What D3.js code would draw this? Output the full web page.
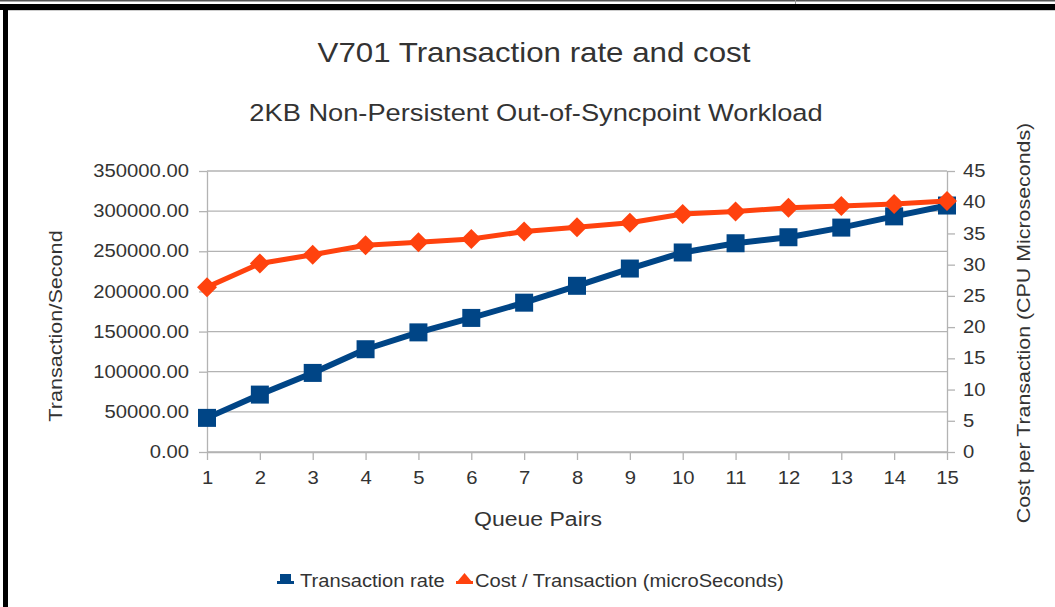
<!DOCTYPE html>
<html>
<head>
<meta charset="utf-8">
<script src="https://cdn.jsdelivr.net/npm/d3@7"></script>
<style>
  body { margin: 0; background: #fff; }
  svg { display: block; font-family: "Liberation Sans", Arial, sans-serif; }
</style>
</head>
<body>
<svg id="chart" width="1055" height="607"></svg>
<script>
const queuePairs = [1, 2, 3, 4, 5, 6, 7, 8, 9, 10, 11, 12, 13, 14, 15];
const transactionRate = [42500, 71500, 98500, 128000, 149000, 167000, 186000, 207000, 228500, 248500, 260000, 267500, 279500, 293500, 307000];
const costPerTransaction = [26.4, 30.2, 31.6, 33.1, 33.6, 34.1, 35.3, 36.0, 36.7, 38.1, 38.5, 39.1, 39.4, 39.7, 40.2];
const leftTicks = [0, 50000, 100000, 150000, 200000, 250000, 300000, 350000];
const rightTicks = [0, 5, 10, 15, 20, 25, 30, 35, 40, 45];

const blue = "#004586", orange = "#ff420e", grid = "#b3b3b3", textCol = "#333";
const stretch = 1.15; // source text looks horizontally widened
const svg = d3.select("#chart");

// frame bits around the picture
svg.append("rect").attr("x", 0).attr("y", 0).attr("width", 1055).attr("height", 1.5).attr("fill", "#555");
svg.append("rect").attr("x", 795).attr("y", 0).attr("width", 1).attr("height", 4).attr("fill", "#999");
svg.append("rect").attr("x", 0).attr("y", 4).attr("width", 1055).attr("height", 6).attr("fill", "#000");
svg.append("rect").attr("x", 3).attr("y", 10).attr("width", 5).attr("height", 597).attr("fill", "#000");
svg.append("rect").attr("x", 8).attr("y", 10).attr("width", 1047).attr("height", 1).attr("fill", "#ccc");

const plotL = 207, plotR = 947, plotT = 171, plotB = 452;

const x = d3.scaleLinear().domain([1, 15]).range([plotL, plotR]);
const yL = d3.scaleLinear().domain([0, 350000]).range([plotB, plotT]);
const yR = d3.scaleLinear().domain([0, 45]).range([plotB, plotT]);

// gridlines
svg.append("g").selectAll("line").data(leftTicks).join("line")
  .attr("x1", plotL).attr("x2", plotR)
  .attr("y1", d => yL(d)).attr("y2", d => yL(d))
  .attr("stroke", grid).attr("stroke-width", 1.3);

function styleAxis(g) {
  g.select(".domain").attr("stroke", grid).attr("stroke-width", 1.3);
  g.selectAll(".tick line").attr("stroke", grid).attr("stroke-width", 1.3);
  g.selectAll(".tick text").attr("fill", textCol).style("font-size", "17.6px");
}

svg.append("g").attr("transform", `translate(${plotL},0)`)
  .call(d3.axisLeft(yL).tickValues(leftTicks).tickFormat(d3.format(".2f")).tickSize(8).tickSizeOuter(0).tickPadding(10))
  .call(styleAxis);

svg.append("g").attr("transform", `translate(${plotR},0)`)
  .call(d3.axisRight(yR).tickValues(rightTicks).tickSize(8).tickSizeOuter(0).tickPadding(8))
  .call(styleAxis);

svg.append("g").attr("transform", `translate(0,${plotB})`)
  .call(d3.axisBottom(x).tickValues(queuePairs).tickFormat(d3.format("d")).tickSize(8).tickSizeOuter(0).tickPadding(12))
  .call(styleAxis);

// lines
const blueLine = d3.line().x((d, i) => x(queuePairs[i])).y(d => yL(d));
const orangeLine = d3.line().x((d, i) => x(queuePairs[i])).y(d => yR(d));

svg.append("path").datum(transactionRate).attr("d", blueLine)
  .attr("fill", "none").attr("stroke", blue).attr("stroke-width", 6).attr("stroke-linejoin", "round");
svg.append("g").selectAll("rect").data(transactionRate).join("rect")
  .attr("x", (d, i) => x(queuePairs[i]) - 9).attr("y", d => yL(d) - 9)
  .attr("width", 18).attr("height", 18).attr("fill", blue);

svg.append("path").datum(costPerTransaction).attr("d", orangeLine)
  .attr("fill", "none").attr("stroke", orange).attr("stroke-width", 5).attr("stroke-linejoin", "round");
svg.append("g").selectAll("path").data(costPerTransaction).join("path")
  .attr("transform", (d, i) => `translate(${x(queuePairs[i])},${yR(d)})`)
  .attr("d", "M0,-10L10,0L0,10L-10,0Z").attr("fill", orange);

// titles
function label(txt, size) {
  return svg.append("text").attr("text-anchor", "middle").attr("fill", textCol)
    .style("font-size", size + "px").text(txt);
}
label("V701 Transaction rate and cost", 27.2).attr("x", 534).attr("y", 62);
label("2KB Non-Persistent Out-of-Syncpoint Workload", 23.7).attr("x", 536).attr("y", 121);
label("Queue Pairs", 20).attr("x", 538).attr("y", 526);
label("Transaction/Second", 18.8).attr("transform", "translate(62,326) rotate(-90)");
label("Cost per Transaction (CPU Microseconds)", 18.6).attr("transform", "translate(1030,323) rotate(-90)");

// legend
const lg = svg.append("g").attr("transform", "translate(0,581)");
lg.append("rect").attr("x", 277).attr("y", 0).attr("width", 17).attr("height", 3).attr("fill", blue);
lg.append("rect").attr("x", 280).attr("y", -7).attr("width", 11).attr("height", 8).attr("fill", blue);
lg.append("text").attr("x", 300).attr("y", 6).attr("fill", textCol)
  .style("font-size", "17.5px").text("Transaction rate");
lg.append("rect").attr("x", 456).attr("y", 0).attr("width", 17).attr("height", 3).attr("fill", orange);
lg.append("path").attr("d", "M457,1L464.5,-8L472,1Z").attr("fill", orange);
lg.append("text").attr("x", 475).attr("y", 6).attr("fill", textCol)
  .style("font-size", "17.5px").text("Cost / Transaction (microSeconds)");

// widen every text run a bit
svg.selectAll("text").each(function() {
  const len = this.getComputedTextLength();
  this.setAttribute("textLength", len * stretch);
  this.setAttribute("lengthAdjust", "spacingAndGlyphs");
});
</script>
</body>
</html>
